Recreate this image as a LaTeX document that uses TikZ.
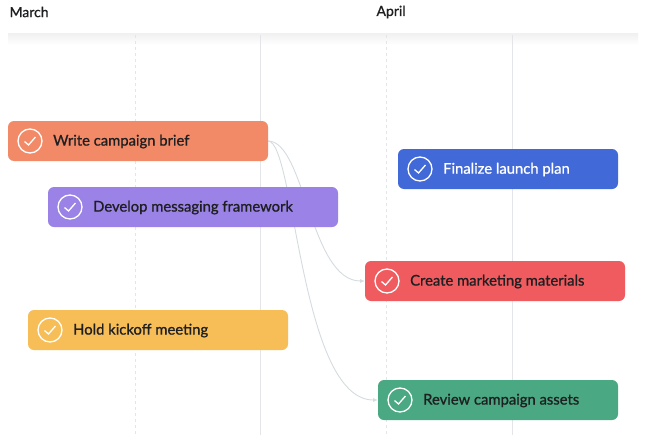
\documentclass[tikz,border=0pt]{standalone}
\usepackage{fontspec}
\setmainfont{Lato}
\newfontfamily\taskfont{Lato}[FakeBold=0.9]
\usetikzlibrary{arrows.meta,backgrounds}
\definecolor{briefc}{HTML}{F28A68}
\definecolor{msgc}{HTML}{9B82E6}
\definecolor{planc}{HTML}{4169D8}
\definecolor{matc}{HTML}{EF5B5F}
\definecolor{kickc}{HTML}{F7BE57}
\definecolor{assetc}{HTML}{4AA882}
\definecolor{gridc}{HTML}{E3E5E8}
\definecolor{linkc}{HTML}{D5DCE0}
\definecolor{inkc}{HTML}{1E1F21}
\tikzset{
  tasktext/.style={anchor=west, font=\taskfont\fontsize{14.8}{16}\selectfont, inner sep=0pt},
  tick/.style={draw=white, line width=1.3pt, circle, minimum size=24pt, inner sep=0pt},
  monthlabel/.style={anchor=west, font=\taskfont\fontsize{14}{16}\selectfont, text=inkc},
  link/.style={draw=linkc, line width=0.9pt, -{Latex[length=5pt,width=4pt]}}
}
\newcommand{\taskbar}[6]{% name, x1, y1, x2, colour, text
  \fill[#5, rounded corners=6pt] (#2,#3) rectangle (#4,#3+40);
  \coordinate (#1-w) at (#2,#3+20);
  \coordinate (#1-e) at (#4,#3+20);
  \node[tick] (#1-c) at (#2+22,#3+20) {};
  \draw[white, line width=1.3pt] (#2+16.5,#3+20.5) -- (#2+20.5,#3+24) -- (#2+27.5,#3+16);
  \node[tasktext] (#1-t) at (#2+45,#3+20.5) {#6};
}
\begin{document}
\begin{tikzpicture}[x=1pt, y=-1pt]
\useasboundingbox (0,0) rectangle (648,447);
% header
\node[monthlabel] (march) at (6,12) {March};
\node[monthlabel] (april) at (373,12) {April};
% tasks
\taskbar{brief}{8}{121}{268}{briefc}{\color{inkc}Write campaign brief}
\taskbar{msg}{48}{187}{338}{msgc}{\color{inkc}Develop messaging framework}
\taskbar{plan}{398}{149}{618}{planc}{\color{white}Finalize launch plan}
\taskbar{mat}{365}{261}{625}{matc}{\color{inkc}Create marketing materials}
\taskbar{kick}{28}{310}{288}{kickc}{\color{inkc}Hold kickoff meeting}
\taskbar{asset}{378}{380}{618}{assetc}{\color{inkc}Review campaign assets}
\begin{scope}[on background layer]
\fill[white] (0,0) rectangle (648,447);
\shade[top color=black!6, bottom color=white] (8,33) rectangle (638,45);
% grid
\foreach \x in {135,386} \draw[gridc, dashed, line width=0.6pt] (\x,35) -- (\x,435);
\foreach \x in {260,512} \draw[gridc, line width=0.6pt] (\x,35) -- (\x,435);
% dependencies
\draw[link] (brief-e) .. controls (305,141) and (310,281) .. (mat-w);
\draw[link] (brief-e) .. controls (295,141) and (300,400) .. (asset-w);
\end{scope}
\end{tikzpicture}
\end{document}
